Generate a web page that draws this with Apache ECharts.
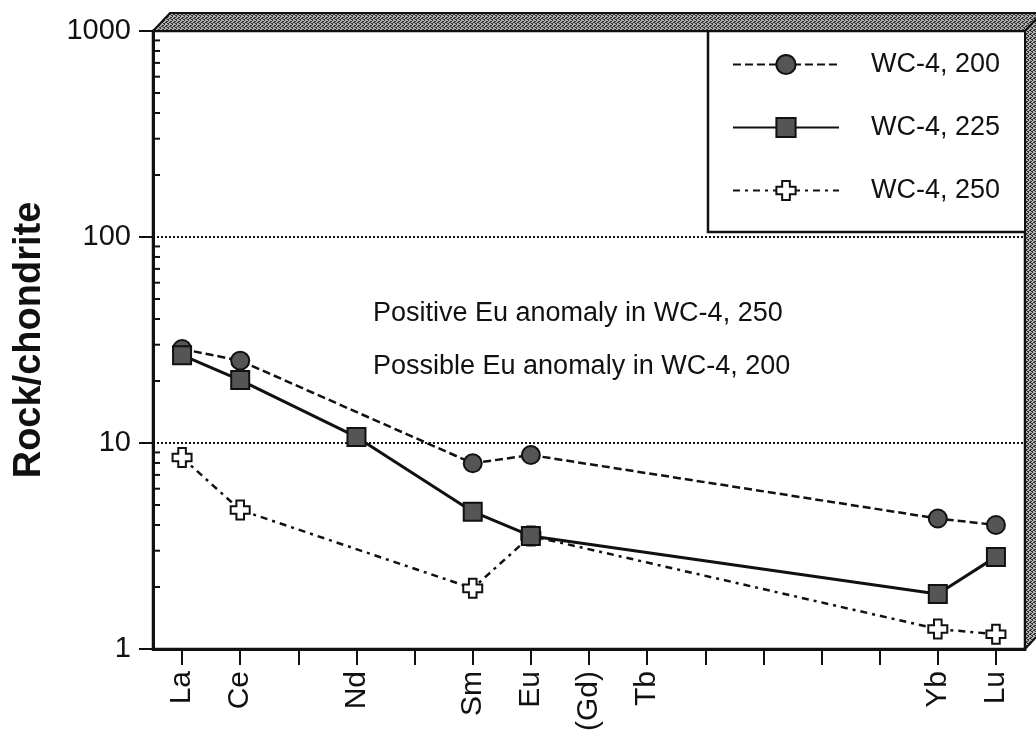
<!DOCTYPE html>
<html>
<head>
<meta charset="utf-8">
<script src="https://cdn.jsdelivr.net/npm/echarts@6/dist/echarts.min.js"></script>
<style>
  html, body { margin: 0; padding: 0; background: #fff; }
  #chart { width: 1036px; height: 736px; }
</style>
</head>
<body>
<div id="chart"></div>
<script>
// Rare-earth element positions along the x axis (chondrite-normalised REE pattern)
const elements = ['La', 'Ce', 'Pr', 'Nd', 'Pm', 'Sm', 'Eu', 'Gd', 'Tb', 'Dy', 'Ho', 'Er', 'Tm', 'Yb', 'Lu'];
const elementLabels = ['La', 'Ce', '', 'Nd', '', 'Sm', 'Eu', '(Gd)', 'Tb', '', '', '', '', 'Yb', 'Lu'];
const yTickValues = [1, 10, 100, 1000];

// Rock/chondrite ratios per sample (null = not analysed)
const wc4_200 = [28.6, 25.1, null, null, null, 7.97, 8.74, null, null, null, null, null, null, 4.3, 4.0];
const wc4_225 = [26.7, 20.2, null, 10.7, null, 4.64, 3.54, null, null, null, null, null, null, 1.85, 2.8];
const wc4_250 = [8.5, 4.73, null, null, null, 1.97, 3.54, null, null, null, null, null, null, 1.25, 1.18];

const seriesNames = ['WC-4, 200', 'WC-4, 225', 'WC-4, 250'];
const notes = ['Positive Eu anomaly in WC-4, 250', 'Possible Eu anomaly in WC-4, 200'];

// Minor tick values inside each decade of the log axis
const minorTickValues = [2, 3, 4, 5, 6, 7, 8, 9, 20, 30, 40, 50, 60, 70, 80, 90, 200, 300, 400, 500, 600, 700, 800, 900];

const FONT = '"Liberation Sans", Arial, Helvetica, sans-serif';
const INK = '#111';
const PLOT = { left: 153, top: 31, right: 1025, bottom: 649 };
const DEPTH = { dx: 17, dy: 18 };
const CROSS = 'path://M6,0H14V6H20V14H14V20H6V14H0V6H6Z';

// Small fixed dither tile for the shaded frame
function stippleTile() {
  const c = document.createElement('canvas');
  c.width = 4; c.height = 4;
  const g = c.getContext('2d');
  g.fillStyle = '#b0b0b0';
  g.fillRect(0, 0, 4, 4);
  g.fillStyle = '#333';
  [[0, 0], [2, 1], [1, 2], [3, 3], [3, 1], [0, 3], [2, 2]].forEach(function (p) { g.fillRect(p[0], p[1], 1, 1); });
  return c;
}
const bandFill = { image: stippleTile(), repeat: 'repeat' };

const chart = echarts.init(document.getElementById('chart'), null, { renderer: 'canvas' });

const option = {
  animation: false,
  backgroundColor: '#fff',
  grid: {
    left: PLOT.left, top: PLOT.top, right: 1036 - PLOT.right, bottom: 736 - PLOT.bottom,
    show: true, borderColor: INK, borderWidth: 2.5, containLabel: false
  },
  legend: {
    orient: 'vertical',
    left: 708, top: PLOT.top,
    padding: [20, 26, 28, 24],
    itemWidth: 106, itemHeight: 24, itemGap: 36,
    backgroundColor: '#fff',
    borderColor: INK, borderWidth: 2.5,
    selectedMode: false,
    textStyle: { fontFamily: FONT, fontSize: 27, color: INK, padding: [0, 0, 0, 27] },
    data: seriesNames
  },
  xAxis: {
    type: 'category',
    data: elements,
    boundaryGap: true,
    axisLine: { lineStyle: { color: INK, width: 3 } },
    axisTick: { show: true, alignWithLabel: true, interval: 0, length: 16, lineStyle: { color: INK, width: 2 } },
    axisLabel: {
      interval: 0, rotate: 90, margin: 22,
      fontFamily: FONT, fontSize: 30, color: INK,
      formatter: function (v, i) { return elementLabels[i]; }
    },
    splitLine: { show: false }
  },
  yAxis: {
    type: 'log',
    logBase: 10,
    min: yTickValues[0],
    max: yTickValues[yTickValues.length - 1],
    name: 'Rock/chondrite',
    nameLocation: 'middle',
    nameMoveOverlap: false,
    nameGap: 104,
    nameTextStyle: { fontFamily: FONT, fontSize: 38, fontWeight: 'bold', color: INK },
    axisLine: { show: true, lineStyle: { color: INK, width: 3 } },
    axisTick: { show: true, inside: false, length: 14, lineStyle: { color: INK, width: 2 } },
    axisLabel: {
      fontFamily: FONT, fontSize: 29, color: INK, margin: 22,
      formatter: function (v) { return String(v); }
    },
    splitLine: { show: true, lineStyle: { color: INK, width: 2, type: [2, 2] } }
  },
  series: [
    {
      name: seriesNames[0], type: 'line', data: wc4_200, connectNulls: true, z: 3,
      symbol: 'circle', symbolSize: 18,
      lineStyle: { color: INK, width: 2.5, type: [8, 4] },
      itemStyle: { color: '#555', borderColor: INK, borderWidth: 2 }
    },
    {
      name: seriesNames[2], type: 'line', data: wc4_250, connectNulls: true, z: 3,
      symbol: CROSS, symbolSize: 19,
      lineStyle: { color: INK, width: 2.5, type: [7, 5, 3, 5] },
      itemStyle: { color: '#fff', borderColor: INK, borderWidth: 2 }
    },
    {
      name: seriesNames[1], type: 'line', data: wc4_225, connectNulls: true, z: 4,
      symbol: 'rect', symbolSize: 18,
      lineStyle: { color: INK, width: 3, type: 'solid' },
      itemStyle: { color: '#555', borderColor: INK, borderWidth: 2 }
    },
    {
      // inner minor ticks on the log axis
      type: 'custom', silent: true, z: 5,
      data: minorTickValues.map(function (v) { return [0, v]; }),
      encode: { x: 0, y: 1 },
      renderItem: function (params, api) {
        const y = api.coord([0, api.value(1)])[1];
        const x = params.coordSys.x;
        return {
          type: 'line',
          shape: { x1: x, y1: y, x2: x + 7, y2: y },
          style: { stroke: INK, lineWidth: 2 }
        };
      }
    }
  ],
  graphic: [
    {
      type: 'polygon', z: 10,
      shape: { points: [[PLOT.left, PLOT.top], [PLOT.left + DEPTH.dx, PLOT.top - DEPTH.dy], [PLOT.right + DEPTH.dx, PLOT.top - DEPTH.dy], [PLOT.right, PLOT.top]] },
      style: { fill: bandFill, stroke: INK, lineWidth: 2 }
    },
    {
      type: 'polygon', z: 10,
      shape: { points: [[PLOT.right, PLOT.top], [PLOT.right + DEPTH.dx, PLOT.top - DEPTH.dy], [PLOT.right + DEPTH.dx, PLOT.bottom - DEPTH.dy], [PLOT.right, PLOT.bottom]] },
      style: { fill: bandFill, stroke: INK, lineWidth: 2 }
    },
    {
      type: 'text', x: 373, y: 314, z: 10,
      style: { text: notes[0], font: '27px ' + FONT, fill: INK, verticalAlign: 'middle', textVerticalAlign: 'middle' }
    },
    {
      type: 'text', x: 373, y: 367, z: 10,
      style: { text: notes[1], font: '27px ' + FONT, fill: INK, verticalAlign: 'middle', textVerticalAlign: 'middle' }
    }
  ]
};

chart.setOption(option);
</script>
</body>
</html>
